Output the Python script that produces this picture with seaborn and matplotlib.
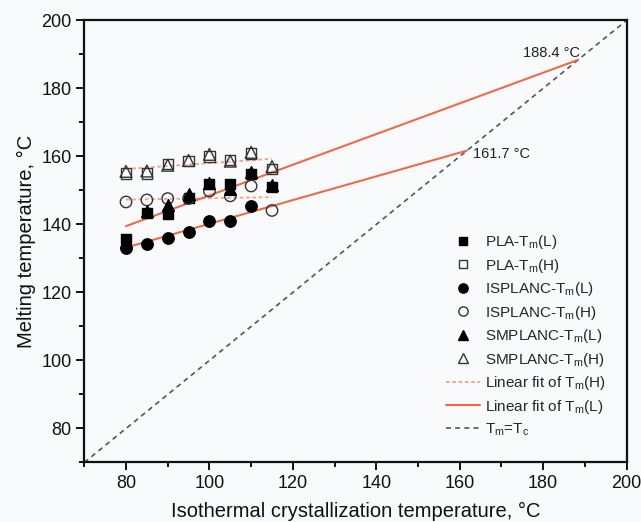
import matplotlib
matplotlib.use("Agg")
import matplotlib.pyplot as plt
from matplotlib.ticker import MultipleLocator
from matplotlib.lines import Line2D
import pandas as pd
import seaborn as sns

# Isothermal crystallization temperatures (°C)
tc = [80, 85, 90, 95, 100, 105, 110, 115]

# Melting temperatures (°C): low (L) and high (H) peaks
pla_L = [135.8, 143.4, 143.2, 147.9, 151.8, 151.8, 154.8, 151.1]
pla_H = [155.0, 155.0, 157.7, 158.6, 160.0, 158.9, 160.8, 156.3]
isplanc_L = [133.1, 134.2, 136.1, 137.8, 141.0, 141.0, 145.3, None]
isplanc_H = [146.6, 147.2, 147.6, 147.6, 149.8, 148.4, 151.3, 144.1]
smplanc_L = [134.8, 143.8, 145.6, 148.8, 152.3, 150.3, 155.5, 151.5]
smplanc_H = [155.6, 155.7, 157.4, 158.8, 160.6, 158.6, 161.2, 157.0]

# Linear fits: x range and melting temperature at each end
fitL_upper_x = [80, 188.4]
fitL_upper_y = [139.5, 188.4]
fitL_lower_x = [80, 161.7]
fitL_lower_y = [133.2, 161.7]
fitH_upper_x = [80, 115]
fitH_upper_y = [156.3, 159.3]
fitH_lower_x = [80, 115]
fitH_lower_y = [147.3, 148.0]

# Equilibrium line Tm = Tc
diag = [70, 200]

# Intersection labels
equil_points = [188.4, 161.7]

sns.set_style("ticks")
plt.rcParams["font.family"] = ["Liberation Sans", "DejaVu Sans"]
plt.rcParams["mathtext.fontset"] = "custom"
plt.rcParams["mathtext.rm"] = "Liberation Sans"

bg = "#f9fafc"
fig = plt.figure(figsize=(6.41, 5.22), dpi=100, facecolor=bg)
ax = fig.add_axes([0.1315, 0.114, 0.846, 0.847])
ax.set_facecolor(bg)

orange = "#ee6a48"
orange_light = "#f4a287"
grey = "#555555"
ink = "#111111"

df = pd.DataFrame({"tc": tc, "pla_L": pla_L, "pla_H": pla_H,
                   "isplanc_L": isplanc_L, "isplanc_H": isplanc_H,
                   "smplanc_L": smplanc_L, "smplanc_H": smplanc_H})

# Equilibrium line
sns.lineplot(x=diag, y=diag, ax=ax, color=grey, lw=1.2, linestyle=(0, (3, 2.5)), zorder=1)

# Fit lines
dash_H = (0, (2, 1.5))
sns.lineplot(x=fitH_upper_x, y=fitH_upper_y, ax=ax, color=orange_light, lw=1.3,
             linestyle=dash_H, zorder=1)
sns.lineplot(x=fitH_lower_x, y=fitH_lower_y, ax=ax, color=orange_light, lw=1.3,
             linestyle=dash_H, zorder=1)
sns.lineplot(x=fitL_upper_x, y=fitL_upper_y, ax=ax, color=orange, lw=1.5, zorder=3)
sns.lineplot(x=fitL_lower_x, y=fitL_lower_y, ax=ax, color=orange, lw=1.5, zorder=3)

series = [
    ("pla_L", "s", "black", "black", 7.5, r"PLA-T$_\mathregular{m}$(L)"),
    ("pla_H", "s", "none", "#333333", 7.5, r"PLA-T$_\mathregular{m}$(H)"),
    ("isplanc_L", "o", "black", "black", 8.2, r"ISPLANC-T$_\mathregular{m}$(L)"),
    ("isplanc_H", "o", "none", "#333333", 8.2, r"ISPLANC-T$_\mathregular{m}$(H)"),
    ("smplanc_L", "^", "black", "black", 8.5, r"SMPLANC-T$_\mathregular{m}$(L)"),
    ("smplanc_H", "^", "none", "#333333", 8.5, r"SMPLANC-T$_\mathregular{m}$(H)"),
]
handles = []
for col, mk, fc, ec, ms, lab in series:
    sub = df[["tc", col]].dropna()
    sns.scatterplot(data=sub, x="tc", y=col, ax=ax, marker=mk, s=ms ** 2,
                    facecolor=fc, edgecolor=ec, linewidth=1.0, zorder=4)
    handles.append(Line2D([], [], marker=mk, linestyle="none", markersize=ms - 1.5,
                          markerfacecolor=fc, markeredgecolor=ec, markeredgewidth=1.0,
                          label=lab))
handles.append(Line2D([], [], color=orange_light, lw=1.3, linestyle=dash_H,
                      label=r"Linear fit of T$_\mathregular{m}$(H)"))
handles.append(Line2D([], [], color=orange, lw=1.5,
                      label=r"Linear fit of T$_\mathregular{m}$(L)"))
handles.append(Line2D([], [], color=grey, lw=1.2, linestyle=(0, (3, 2.5)),
                      label=r"T$_\mathregular{m}$=T$_\mathregular{c}$"))

ax.annotate(f"{equil_points[0]} °C", xy=(equil_points[0], equil_points[0]),
            xytext=(175.2, 190.4), textcoords="data", fontsize=10.5, color="#222222",
            va="center", ha="left")
ax.annotate(f"{equil_points[1]} °C", xy=(equil_points[1], equil_points[1]),
            xytext=(163.2, 160.6), textcoords="data", fontsize=10.5, color="#222222",
            va="center", ha="left")

ax.set_xlim(70, 200)
ax.set_ylim(70, 200)
ax.xaxis.set_minor_locator(MultipleLocator(10))
ax.yaxis.set_minor_locator(MultipleLocator(10))
ax.set_xticks([80, 100, 120, 140, 160, 180, 200])
ax.set_yticks([80, 100, 120, 140, 160, 180, 200])

for s in ax.spines.values():
    s.set_linewidth(1.6)
    s.set_color(ink)
ax.tick_params(which="major", direction="out", length=6, width=1.4, labelsize=13,
               colors=ink, pad=3)
ax.tick_params(which="minor", direction="out", length=3.5, width=1.4, colors=ink)
ax.tick_params(top=False, right=False, which="both")

ax.set_xlabel("Isothermal crystallization temperature, °C", fontsize=14.5, labelpad=7,
              color=ink)
ax.set_ylabel("Melting temperature, °C", fontsize=14.5, labelpad=4, color=ink)

ax.legend(handles=handles, loc="upper left", bbox_to_anchor=(0.653, 0.536),
          frameon=False, fontsize=11, handlelength=2.2, handletextpad=0.35,
          labelspacing=0.36, borderpad=0)

fig.savefig("out.png", dpi=100, facecolor=bg)
